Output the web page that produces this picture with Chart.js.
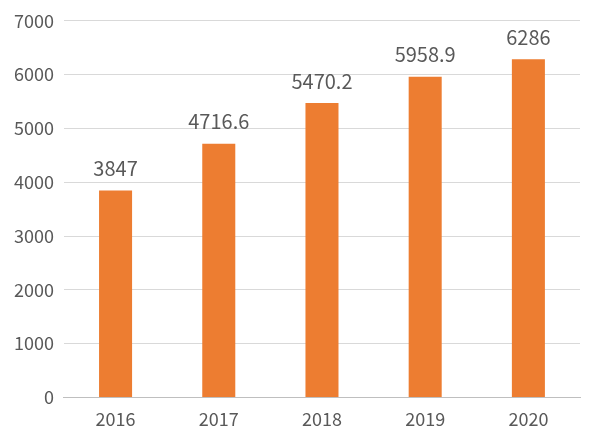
<!DOCTYPE html>
<html>
<head>
<meta charset="utf-8">
<script src="https://cdn.jsdelivr.net/npm/chart.js@4"></script>
<style>
  html, body { margin: 0; padding: 0; background: #fff; }
  #wrap { width: 600px; height: 443px; }
</style>
</head>
<body>
<div id="wrap"><canvas id="chart" width="600" height="443"></canvas></div>
<script>
const years = ["2016", "2017", "2018", "2019", "2020"];
const values = [3847, 4716.6, 5470.2, 5958.9, 6286];
const yTicks = [0, 1000, 2000, 3000, 4000, 5000, 6000, 7000];

const FONT = "'Noto Sans CJK SC', 'DejaVu Sans', sans-serif";

// draws the value above each bar
const valueLabels = {
  id: "valueLabels",
  afterDatasetsDraw(chart) {
    const ctx = chart.ctx;
    const meta = chart.getDatasetMeta(0);
    ctx.save();
    ctx.font = "20px " + FONT;
    ctx.fillStyle = "#595959";
    ctx.textAlign = "center";
    ctx.textBaseline = "bottom";
    meta.data.forEach((bar, i) => {
      ctx.fillText(String(values[i]), bar.x, bar.y - 12);
    });
    ctx.restore();
  }
};

new Chart(document.getElementById("chart").getContext("2d"), {
  type: "bar",
  data: {
    labels: years,
    datasets: [{
      data: values,
      backgroundColor: "#ed7d31",
      categoryPercentage: 1,
      barPercentage: 0.32
    }]
  },
  options: {
    responsive: false,
    animation: false,
    layout: { padding: { top: 6, right: 20, left: 4, bottom: 10 } },
    plugins: { legend: { display: false }, tooltip: { enabled: false } },
    scales: {
      x: {
        grid: { display: false },
        border: { color: "#bfbfbf" },
        ticks: { color: "#595959", font: { family: FONT, size: 18 } }
      },
      y: {
        min: 0,
        max: 7000,
        afterBuildTicks(axis) { axis.ticks = yTicks.map(v => ({ value: v })); },
        grid: { color: "#d9d9d9", drawTicks: false },
        border: { display: false },
        ticks: {
          color: "#595959", padding: 10,
          font: { family: FONT, size: 18 },
          callback: v => String(v)
        }
      }
    }
  },
  plugins: [valueLabels]
});
</script>
</body>
</html>
